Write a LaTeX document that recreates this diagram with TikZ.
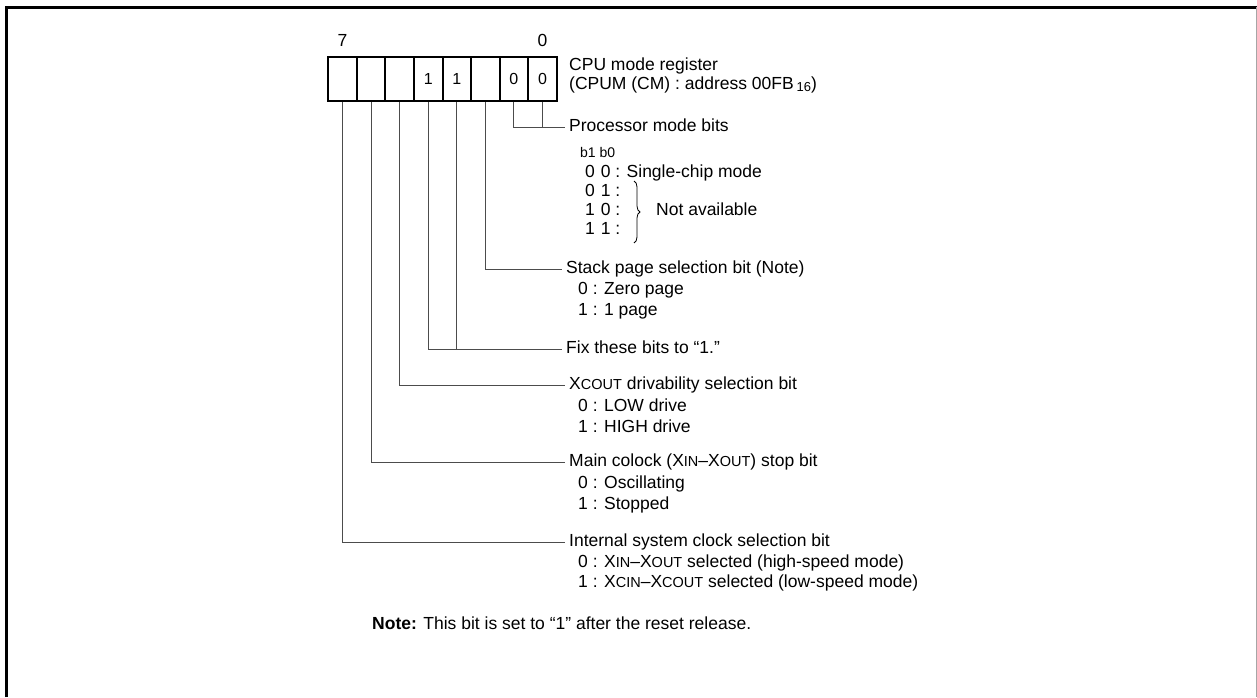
\documentclass[tikz,border=0pt]{standalone}
\usepackage{fontspec}
\setmainfont{Liberation Sans}
\usetikzlibrary{decorations.pathreplacing}
\newcommand{\lc}[1]{{\fontsize{14.5}{14.5}\selectfont #1}}
\newcommand{\lcs}[1]{{\fontsize{13}{13}\selectfont #1}}
\begin{document}
\begin{tikzpicture}[x=1pt,y=-1pt,
  every node/.style={font=\fontsize{17.5}{20}\selectfont, inner sep=0pt},
  cell/.style={draw, line width=2pt, minimum width=28.55pt, minimum height=44pt, anchor=center},
  lbl/.style={anchor=west, inner xsep=4pt, inner ysep=0pt, text height=13pt, text depth=4pt},
  sub/.style={anchor=west, text height=13pt, text depth=4pt},
  conn/.style={line width=0.9pt, draw=black!70},
]
\useasboundingbox (0,0) rectangle (1257,697);
\draw[line width=3pt] (6,697) -- (6,7) -- (1257,7);
\draw[black!35, line width=1pt] (1256,7) -- (1256,697);

% register cells
\foreach \i/\v in {7/,6/,5/,4/1,3/1,2/,1/0,0/0}
  \node[cell, font=\fontsize{16}{18}\selectfont] (c\i) at ({342.6+28.55*(7-\i)},79) {\raisebox{-2pt}{\v}};
\node (n7) at (342.6,40) {7};
\node (n0) at (542.4,40) {0};

% register title
\node[lbl] (t1) at (565,66) {CPU mode register};
\node[lbl] (t2) at (565,85) {(CPUM (CM) : address 00FB\,\raisebox{-1.5pt}{\lcs{16}})};

% processor mode bits
\node[lbl] (pm) at (565,127) {Processor mode bits};
\node[sub, font=\fontsize{14}{16}\selectfont] (pmh) at (580,153) {b1 b0};
\node[sub] (pm0) at (585,173) {0\,\,0 : Single-chip mode};
\node[sub] (pm1) at (585,192) {0\,\,1 :};
\node[sub] (pm2) at (585,211) {1\,\,0 :};
\node[sub] (pm3) at (585,230) {1\,\,1 :};
\coordinate (brt) at (634,181);
\coordinate (brb) at (634,243);
\draw[line width=0.8pt, decorate, decoration={brace, amplitude=6pt}] (brt) -- (brb);
\node[sub] (na) at (656,211) {Not available};

% stack page
\node[lbl] (sp) at (562,269) {Stack page selection bit (Note)};
\node[sub] (sp0) at (578,290) {0 : Zero page};
\node[sub] (sp1) at (578,311) {1 : 1 page};

% fix bits
\node[lbl] (fx) at (562,349) {Fix these bits to “1.”};

% xcout drivability
\node[lbl] (xd) at (565,385) {X\lc{COUT} drivability selection bit};
\node[sub] (xd0) at (578,407) {0 : LOW drive};
\node[sub] (xd1) at (578,428) {1 : HIGH drive};

% main clock
\node[lbl] (mc) at (565,462) {Main colock (X\lc{IN}–X\lc{OUT}) stop bit};
\node[sub] (mc0) at (578,484) {0 : Oscillating};
\node[sub] (mc1) at (578,505) {1 : Stopped};

% internal clock
\node[lbl] (ic) at (565,542) {Internal system clock selection bit};
\node[sub] (ic0) at (578,563) {0 : X\lc{IN}–X\lc{OUT} selected (high-speed mode)};
\node[sub] (ic1) at (578,583) {1 : X\lc{CIN}–X\lc{COUT} selected (low-speed mode)};

% note
\node[sub] (note) at (372,625) {\textbf{Note:} This bit is set to “1” after the reset release.};

% connectors
\draw[conn] (c1.south) |- (pm.west);
\draw[conn] (c0.south) -- (c0.south |- pm.west);
\draw[conn] (c2.south) |- (sp.west);
\draw[conn] (c4.south) |- (fx.west);
\draw[conn] (c3.south) -- (c3.south |- fx.west);
\draw[conn] (c5.south) |- (xd.west);
\draw[conn] (c6.south) |- (mc.west);
\draw[conn] (c7.south) |- (ic.west);
\end{tikzpicture}
\end{document}
